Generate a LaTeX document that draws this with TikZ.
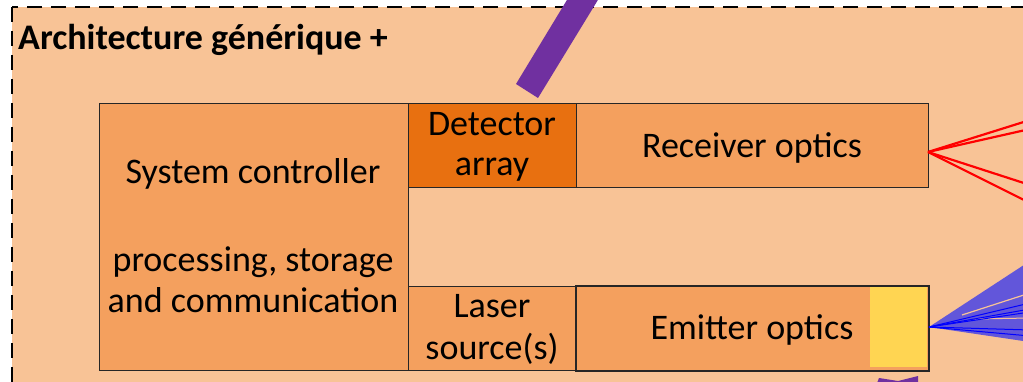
\documentclass[tikz,border=0pt]{standalone}
\usepackage{fontspec}
\setmainfont{Carlito}
\definecolor{zonebg}{RGB}{248,195,150}
\definecolor{boxfill}{RGB}{244,160,94}
\definecolor{detfill}{RGB}{232,112,16}
\definecolor{lensfill}{RGB}{255,213,82}
\definecolor{beampurple}{RGB}{112,48,160}
\definecolor{fanblue}{RGB}{98,86,218}
\begin{document}
\begin{tikzpicture}[x=1pt,y=-1pt,
  block/.style={draw=black!85,line width=1.4pt,anchor=north west,inner sep=0pt},
  lbl/.style={font=\fontsize{36}{43}\selectfont,anchor=base,inner sep=0pt},
  title/.style={font=\bfseries\fontsize{36}{43}\selectfont,anchor=base west,inner sep=0pt},
  frame/.style={draw=black,line width=1.8pt,dash pattern=on 15pt off 9pt},
  ray/.style={red,line width=2.2pt},
  fanline/.style={blue,line width=1pt}]
\useasboundingbox (0,0) rectangle (1023,382);
\begin{scope}
\clip (0,0) rectangle (1023,382);
% dashed zone
\fill[zonebg] (12,7) rectangle (1080,430);
\draw[frame] (12,7) rectangle (1080,430);
\node[title] (ttl) at (18,50) {Architecture générique +};

% blocks
\node[block,fill=boxfill,minimum width=309pt,minimum height=267pt] (ctrl) at (99,103) {};
\node[block,fill=detfill,minimum width=168pt,minimum height=84pt] (det) at (408,103) {};
\node[block,fill=boxfill,minimum width=352pt,minimum height=84pt] (rx) at (576,103) {};
\node[block,fill=boxfill,minimum width=168pt,minimum height=84pt] (laser) at (408,286) {};
\node[block,fill=boxfill,minimum width=352pt,minimum height=84pt] (tx) at (576,286) {};
\fill[lensfill] (870,287) rectangle (927,367);
\draw[draw=black!85,line width=1.4pt] (tx.north west) rectangle (tx.south east);

% labels
\node[lbl] (l1) at (253,184) {System controller};
\node[lbl] (l2) at (253,272) {processing, storage};
\node[lbl] (l3) at (253,312) {and communication};
\node[lbl] (l4) at (492,136) {Detector};
\node[lbl] (l5) at (492,176) {array};
\node[lbl] (l6) at (752,158) {Receiver optics};
\node[lbl] (l7) at (492,317) {Laser};
\node[lbl] (l8) at (492,359) {source(s)};
\node[lbl] (l9) at (752,339) {Emitter optics};

% received rays
\coordinate (rxo) at (928,152);
\draw[ray] (rxo) -- (1030,120);
\draw[ray] (rxo) -- (1030,129);
\draw[ray] (rxo) -- (1030,185);
\draw[ray] (rxo) -- (1030,203);

% emitted fan
\coordinate (txo) at (929,327);
\fill[fanblue] (txo) -- (1030,261) -- (1030,342) -- cycle;
\draw[zonebg,line width=1.2pt] (962,315) -- (1030,293);
\draw[zonebg,line width=1.0pt] (975,319) -- (1030,318);
\draw[fanline] (txo) -- (1030,303);
\draw[fanline] (txo) -- (1030,309);
\draw[fanline] (txo) -- (1030,312);
\draw[fanline] (txo) -- (1030,330);
\draw[fanline] (txo) -- (1030,336);

% purple beams
\fill[beampurple] (516,84) -- (538,98) -- (604,-10) -- (573,-10) -- cycle;
\fill[beampurple] (877,383) -- (879,378) -- (898,381) -- (918,376) -- (918,383) -- cycle;
\end{scope}
\end{tikzpicture}
\end{document}
